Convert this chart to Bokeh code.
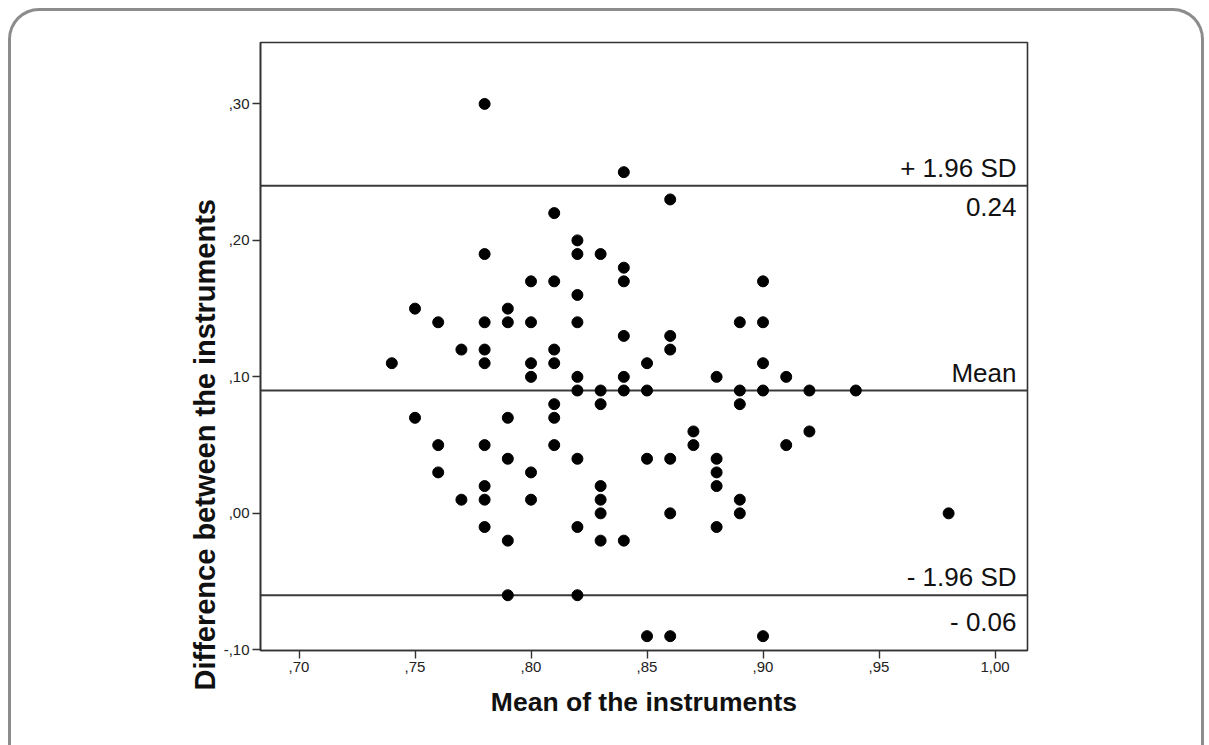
from bokeh.plotting import figure
from bokeh.models import FixedTicker, Range1d, Title
from bokeh.core.properties import value
from bokeh.embed import file_html
from bokeh.resources import INLINE

# ---- data ----
mean_vals = [0.74,
             0.75, 0.75,
             0.76, 0.76, 0.76,
             0.77, 0.77,
             0.78, 0.78, 0.78, 0.78, 0.78, 0.78, 0.78, 0.78, 0.78,
             0.79, 0.79, 0.79, 0.79, 0.79, 0.79,
             0.80, 0.80, 0.80, 0.80, 0.80, 0.80,
             0.81, 0.81, 0.81, 0.81, 0.81, 0.81, 0.81,
             0.82, 0.82, 0.82, 0.82, 0.82, 0.82, 0.82, 0.82, 0.82,
             0.83, 0.83, 0.83, 0.83, 0.83, 0.83, 0.83,
             0.84, 0.84, 0.84, 0.84, 0.84, 0.84, 0.84,
             0.85, 0.85, 0.85, 0.85,
             0.86, 0.86, 0.86, 0.86, 0.86, 0.86,
             0.87, 0.87,
             0.88, 0.88, 0.88, 0.88, 0.88,
             0.89, 0.89, 0.89, 0.89, 0.89,
             0.90, 0.90, 0.90, 0.90, 0.90,
             0.91, 0.91,
             0.92, 0.92,
             0.94,
             0.98]
diff_vals = [0.11,
             0.15, 0.07,
             0.14, 0.05, 0.03,
             0.12, 0.01,
             0.30, 0.19, 0.14, 0.12, 0.11, 0.05, 0.02, 0.01, -0.01,
             0.15, 0.14, 0.07, 0.04, -0.02, -0.06,
             0.17, 0.14, 0.11, 0.10, 0.03, 0.01,
             0.22, 0.17, 0.12, 0.11, 0.08, 0.07, 0.05,
             0.20, 0.19, 0.16, 0.14, 0.10, 0.09, 0.04, -0.01, -0.06,
             0.19, 0.09, 0.08, 0.02, 0.01, 0.00, -0.02,
             0.25, 0.18, 0.17, 0.13, 0.10, 0.09, -0.02,
             0.11, 0.09, 0.04, -0.09,
             0.23, 0.13, 0.12, 0.04, 0.00, -0.09,
             0.06, 0.05,
             0.10, 0.04, 0.03, 0.02, -0.01,
             0.14, 0.09, 0.08, 0.01, 0.00,
             0.17, 0.14, 0.11, 0.09, -0.09,
             0.10, 0.05,
             0.09, 0.06,
             0.09,
             0.00]

x_ticks = [0.70, 0.75, 0.80, 0.85, 0.90, 0.95, 1.00]
x_tick_labels = [",70", ",75", ",80", ",85", ",90", ",95", "1,00"]
y_ticks = [-0.10, 0.00, 0.10, 0.20, 0.30]
y_tick_labels = ["-,10", ",00", ",10", ",20", ",30"]

limit_values = [0.24, 0.09, -0.06]
limit_titles = ["+ 1.96 SD", "Mean", "- 1.96 SD"]
value_positions = [0.24, -0.06]
value_labels = ["0.24", "- 0.06"]

x_title = "Mean of the instruments"
y_title = "Difference between the instruments"

X_START, X_END = 0.6834, 1.014
Y_START, Y_END = -0.1005, 0.345

FONT = "Liberation Sans"

p = figure(output_backend="svg", toolbar_location=None,
           frame_width=767, frame_height=608,
           min_border_left=249, min_border_right=174,
           min_border_top=31, min_border_bottom=95,
           x_range=Range1d(X_START, X_END), y_range=Range1d(Y_START, Y_END),
           background_fill_color="white", border_fill_color=None)

p.styles = {"margin": "8px 0 0 8px",
            "border": "3px solid #8c8c8c", "border-bottom": "none",
            "border-radius": "31px 31px 0 0"}

p.grid.visible = False
p.outline_line_color = "#333333"
p.outline_line_width = 1.6
p.outline_line_alpha = 1.0

p.xaxis.ticker = FixedTicker(ticks=x_ticks)
p.yaxis.ticker = FixedTicker(ticks=y_ticks)
p.xaxis.major_label_overrides = dict(zip(x_ticks, x_tick_labels))
p.yaxis.major_label_overrides = dict(zip(y_ticks, y_tick_labels))

for ax in (p.xaxis[0], p.yaxis[0]):
    ax.major_tick_in = 0
    ax.major_tick_out = 8
    ax.minor_tick_line_color = None
    ax.major_tick_line_color = "#333333"
    ax.major_tick_line_width = 1.4
    ax.axis_line_color = "#333333"
    ax.axis_line_width = 1.6
    ax.major_label_text_font = FONT
    ax.major_label_text_font_size = "15px"
    ax.major_label_text_color = "#222222"
    ax.major_label_standoff = 3
    ax.axis_label_text_font = FONT
    ax.axis_label_text_font_style = "bold"
    ax.axis_label_text_font_size = "26.5px"
    ax.axis_label_text_color = "#111111"

p.xaxis.axis_label = x_title
p.xaxis.axis_label_standoff = 12

# y-axis title placed in the left panel, starting below the frame like the reference
p.add_layout(Title(text=y_title, align="left", offset=-40, standoff=0,
                   text_font=FONT, text_font_style="bold",
                   text_font_size="29px", text_color="#111111"), "left")

# reference lines
p.segment(x0=[X_START] * len(limit_values), x1=[X_END] * len(limit_values),
          y0=limit_values, y1=limit_values,
          line_color="#3a3a3a", line_width=2)

# points
p.scatter(mean_vals, diff_vals, size=11, color="black")

# labels
p.text(x=[X_END] * len(limit_values), y=limit_values, text=limit_titles,
       text_align="right", text_baseline="bottom",
       x_offset=-11, y_offset=-3,
       text_font=value(FONT), text_font_size="26px", text_color="#111111")
p.text(x=[X_END] * len(value_positions), y=value_positions, text=value_labels,
       text_align="right", text_baseline="top",
       x_offset=-11, y_offset=12,
       text_font=value(FONT), text_font_size="26px", text_color="#111111")

open("out.html", "w").write(file_html(p, INLINE))
